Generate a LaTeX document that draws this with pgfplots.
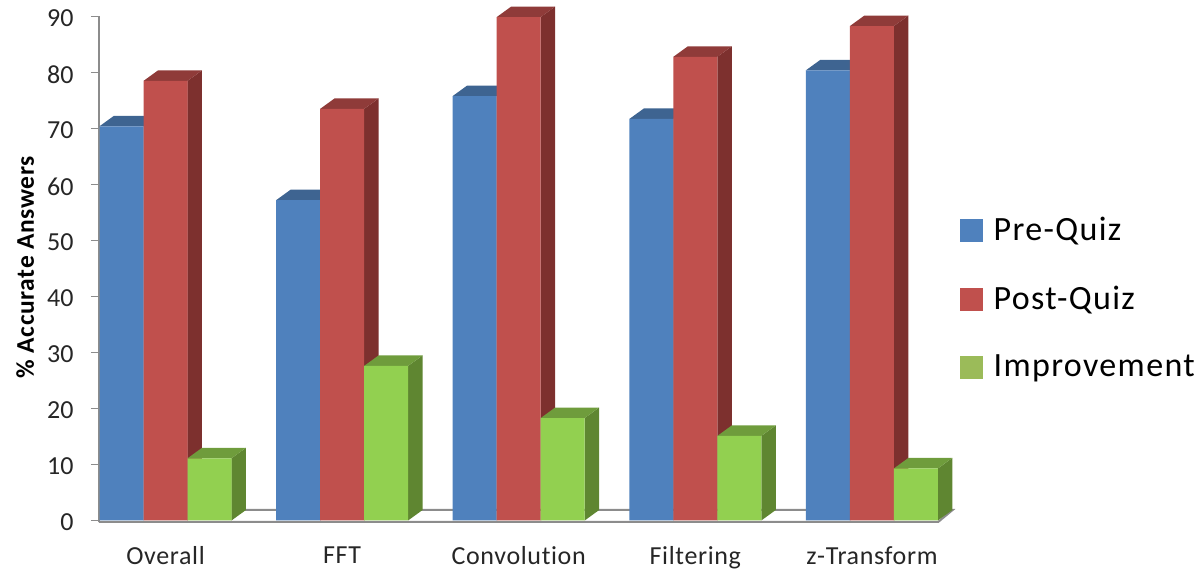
\documentclass[border=0pt]{standalone}
\usepackage{fontspec}
\setmainfont[Ligatures=NoCommon]{Carlito}
\usepackage{pgfplots}
\usepackage{pgfplotstable}
\pgfplotsset{compat=1.18}

\definecolor{preFront}{HTML}{4F81BD}
\definecolor{preTop}{HTML}{3E6491}
\definecolor{postFront}{HTML}{C0504D}
\definecolor{postTop}{HTML}{8F3B39}
\definecolor{postSide}{HTML}{7D302E}
\definecolor{impFront}{HTML}{92D050}
\definecolor{impTop}{HTML}{6F9C3C}
\definecolor{impSide}{HTML}{5F8631}
\definecolor{impKey}{HTML}{9BBB59}
\definecolor{axisgrey}{HTML}{8C8C8C}
\definecolor{labelgrey}{HTML}{262626}

% percentages per topic
\pgfplotstableread{
idx pre  post imp
0   70.4 78.5 11.1
1   57.2 73.5 27.6
2   75.8 89.9 18.3
3   71.7 82.8 15.1
4   80.4 88.3  9.3
}\scores

% half bar width and receding depth of the bars, in axis units
\def\halfw{0.1245}
\def\depthx{0.082}
\def\depthy{1.875}

% top and side faces of one bar: centre, value, top colour, side colour
\newcommand\extrude[4]{%
  \pgfmathsetmacro\xl{#1-\halfw}%
  \pgfmathsetmacro\xr{#1+\halfw}%
  \pgfmathsetmacro\xL{#1-\halfw+\depthx}%
  \pgfmathsetmacro\xR{#1+\halfw+\depthx}%
  \pgfmathsetmacro\vb{#2+\depthy}%
  \addplot[forget plot, draw=none, fill=#4] coordinates {(\xr,0) (\xR,\depthy) (\xR,\vb) (\xr,#2)};
  \addplot[forget plot, draw=none, fill=#3] coordinates {(\xl,#2) (\xL,\vb) (\xR,\vb) (\xr,#2)};
}

% faces of every bar of one series: column, offset, top colour, side colour
\newcommand\seriesfaces[4]{%
  \pgfplotsinvokeforeach{0,1,2,3,4}{%
    \pgfplotstablegetelem{##1}{#1}\of\scores
    \let\barvalue\pgfplotsretval
    \pgfmathsetmacro\barcentre{##1+#2}%
    \edef\doextrude{\noexpand\extrude{\barcentre}{\barvalue}{#3}{#4}}%
    \doextrude
  }%
}

% legend text with a fixed row height and a gap after the key
\newcommand\keytext[1]{\hspace{11pt}\rule[-8pt]{0pt}{28pt}#1}

\begin{document}
\begin{tikzpicture}[x=1pt,y=1pt]
\useasboundingbox (-99,-47) rectangle (1101,522);
\begin{axis}[
  scale only axis,
  width=854pt, height=505.5pt,
  xmin=-0.3766, xmax=4.459,
  ymin=-0.27, ymax=90,
  clip=false,
  axis y line=left,
  axis x line=bottom,
  axis line style={draw=axisgrey, line width=2pt, -},
  x axis line style={draw=none},
  xtick={0,1,2,3,4},
  xticklabels={Overall,FFT,Convolution,Filtering,z-Transform},
  ytick={0,10,...,90},
  major x tick style={draw=none},
  major y tick style={draw=axisgrey, line width=1.5pt},
  tick align=outside,
  major tick length=8pt,
  /pgf/number format/assume math mode=true,
  yticklabel style={font=\fontsize{26}{28}\selectfont, text=labelgrey, xshift=-14pt, yshift=-2pt},
  xticklabel style={font=\fontsize{26}{28}\selectfont\addfontfeature{LetterSpace=2.5}, text=labelgrey, yshift=-13pt},
  ylabel={\% Accurate Answers},
  ylabel style={at={(axis description cs:-0.0865,0.504)}, anchor=center, font=\fontsize{25.5}{28}\selectfont\bfseries\addfontfeature{LetterSpace=2.5}, text=black},
  legend style={
    at={(axis description cs:1.0,0.603)}, anchor=north west,
    draw=none, fill=none, font=\fontsize{34}{36}\selectfont\addfontfeature{LetterSpace=4},
    row sep=44pt, inner xsep=7pt, inner ysep=0pt,
    nodes={inner sep=0pt, anchor=west},
  },
  legend cell align=left,
]
% floor of the plot
\draw[axisgrey, line width=2pt] (axis cs:-0.3766,-0.27) -- (axis cs:4.375,-0.27) -- (axis cs:4.457,1.875) -- (axis cs:0.45,1.875);

\seriesfaces{pre}{-0.2491}{preTop}{preTop}
\addplot[ybar, bar width=44pt, bar shift=-44pt, fill=preFront, draw=none, forget plot] table[x=idx,y=pre] {\scores};
\seriesfaces{post}{0}{postTop}{postSide}
\addplot[ybar, bar width=44pt, bar shift=0pt, fill=postFront, draw=none, forget plot] table[x=idx,y=post] {\scores};
\seriesfaces{imp}{0.2491}{impTop}{impSide}
\addplot[ybar, bar width=44pt, bar shift=44pt, fill=impFront, draw=none, forget plot] table[x=idx,y=imp] {\scores};

\addlegendimage{legend image code/.code={\fill[preFront] (0pt,-11pt) rectangle (22pt,11pt);}}
\addlegendentry{\keytext{Pre-Quiz}}
\addlegendimage{legend image code/.code={\fill[postFront] (0pt,-11pt) rectangle (22pt,11pt);}}
\addlegendentry{\keytext{Post-Quiz}}
\addlegendimage{legend image code/.code={\fill[impKey] (0pt,-11pt) rectangle (22pt,11pt);}}
\addlegendentry{\keytext{Improvement}}
\end{axis}
\end{tikzpicture}
\end{document}
